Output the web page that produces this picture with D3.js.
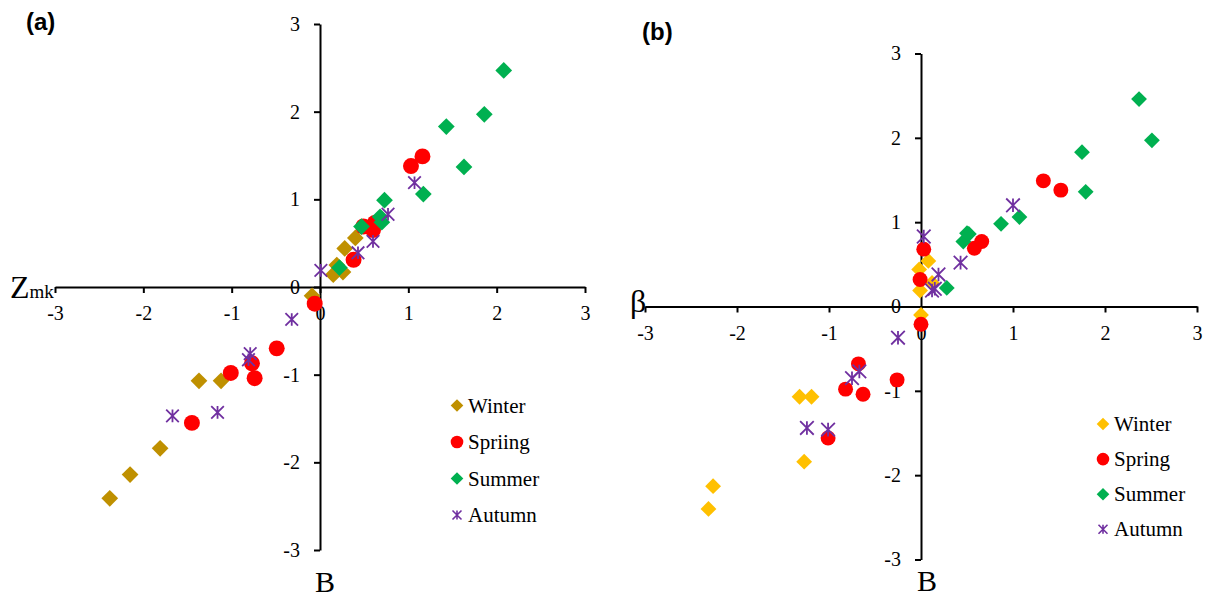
<!DOCTYPE html>
<html>
<head>
<meta charset="utf-8">
<script src="https://cdn.jsdelivr.net/npm/d3@7"></script>
<style>
  html, body { margin: 0; padding: 0; background: #fff; }
  svg { display: block; }
</style>
</head>
<body>
<svg id="chart" width="1209" height="599"></svg>
<script>
// ---- Data ----
const seasonsA = ["Winter", "Spriing", "Summer", "Autumn"];
const seasonsB = ["Winter", "Spring", "Summer", "Autumn"];
const tickValues = [-3, -2, -1, 0, 1, 2, 3];

// Panel (a): B vs Zmk
const winterA_x = [-2.38, -2.15, -1.81, -1.37, -1.12, -0.09, 0.15, 0.26, 0.19, 0.28, 0.40];
const winterA_y = [-2.41, -2.14, -1.84, -1.07, -1.07, -0.10, 0.14, 0.17, 0.25, 0.44, 0.56];
const springA_x = [-1.45, -1.01, -0.74, -0.49, -0.77, -0.06, 0.38, 0.49, 0.60, 0.62, 1.03, 1.16];
const springA_y = [-1.55, -0.98, -1.04, -0.70, -0.87, -0.19, 0.31, 0.69, 0.65, 0.73, 1.38, 1.49];
const summerA_x = [0.22, 0.47, 0.68, 0.70, 0.73, 1.17, 1.43, 1.63, 1.86, 2.08];
const summerA_y = [0.22, 0.69, 0.80, 0.74, 0.99, 1.06, 1.83, 1.37, 1.97, 2.47];
const autumnA_x = [-1.67, -1.16, -0.81, -0.79, -0.32, 0.01, 0.43, 0.60, 0.77, 1.07];
const autumnA_y = [-1.47, -1.43, -0.83, -0.76, -0.37, 0.19, 0.39, 0.52, 0.83, 1.19];

// Panel (b): B vs beta
const winterB_x = [-2.31, -2.26, -1.27, -1.32, -1.19, 0.00, -0.01, 0.12, -0.02, 0.08];
const winterB_y = [-2.40, -2.13, -1.84, -1.07, -1.07, -0.10, 0.19, 0.28, 0.44, 0.54];
const springB_x = [-1.01, -0.82, -0.63, -0.68, -0.26, 0.00, -0.01, 0.03, 0.58, 0.66, 1.33, 1.52];
const springB_y = [-1.56, -0.98, -1.04, -0.68, -0.87, -0.21, 0.32, 0.68, 0.69, 0.77, 1.49, 1.38];
const summerB_x = [0.28, 0.46, 0.50, 0.52, 0.87, 1.07, 1.75, 1.79, 2.37, 2.51];
const summerB_y = [0.22, 0.77, 0.87, 0.86, 0.98, 1.06, 1.83, 1.36, 2.46, 1.97];
const autumnB_x = [-1.24, -1.01, -0.75, -0.67, -0.25, 0.12, 0.15, 0.19, 0.43, 0.03, 1.00];
const autumnB_y = [-1.44, -1.46, -0.85, -0.77, -0.37, 0.19, 0.21, 0.38, 0.52, 0.83, 1.20];

// ---- Drawing ----
const svg = d3.select("#chart");
const SERIF = "'Liberation Serif', 'Times New Roman', serif";
const SANS = "'Liberation Sans', Arial, sans-serif";

function zip(xs, ys) { return xs.map((x, i) => ({x: x, y: ys[i]})); }

function asteriskPath(r) {
  const p = d3.path();
  p.moveTo(0, -r); p.lineTo(0, r);
  p.moveTo(-r, -r); p.lineTo(r, r);
  p.moveTo(-r, r); p.lineTo(r, -r);
  return p.toString();
}

function drawMarker(g, type, color, size) {
  if (type === "diamond") {
    g.append("path")
      .attr("d", d3.symbol().type(d3.symbolSquare).size(size.diamond)())
      .attr("transform", "rotate(45)")
      .attr("fill", color);
  } else if (type === "circle") {
    g.append("path")
      .attr("d", d3.symbol().type(d3.symbolCircle).size(size.circle)())
      .attr("fill", color);
  } else {
    g.append("path")
      .attr("d", asteriskPath(size.star))
      .attr("stroke", color).attr("stroke-width", size.starW || 1.8).attr("fill", "none");
  }
}

function panel(cfg) {
  const x = d3.scaleLinear().domain([-3, 3]).range(cfg.xRange);
  const y = d3.scaleLinear().domain([-3, 3]).range(cfg.yRange);
  const root = svg.append("g");

  // x axis through y=0
  const gx = root.append("g")
    .attr("transform", `translate(0,${y(0)})`)
    .call(d3.axisBottom(x).tickValues(tickValues).tickFormat(d3.format("d"))
      .tickSize(6).tickSizeOuter(0).tickPadding(13));
  // y axis through x=0
  const gy = root.append("g")
    .attr("transform", `translate(${x(0)},0)`)
    .call(d3.axisLeft(y).tickValues(tickValues).tickFormat(d3.format("d"))
      .tickSize(6).tickSizeOuter(0).tickPadding(14));
  [gx, gy].forEach(g => {
    g.attr("font-family", SERIF).attr("font-size", 20);
    g.selectAll("path.domain").attr("stroke", "#000").attr("stroke-width", 2);
    g.selectAll(".tick line").attr("stroke", "#000").attr("stroke-width", 2);
    g.selectAll(".tick text").attr("fill", "#000")
      .attr("font-family", SERIF)
      .style("font-family", SERIF).style("font-size", "20px");
  });
  gx.selectAll(".tick text").text(d => d < 0 ? "-" + Math.abs(d) : d);
  gy.selectAll(".tick text").text(d => d < 0 ? "-" + Math.abs(d) : d);

  // series
  cfg.series.forEach(s => {
    const pts = zip(s.xs, s.ys);
    pts.forEach(p => {
      const g = root.append("g").attr("transform", `translate(${x(p.x)},${y(p.y)})`);
      drawMarker(g, s.type, s.color, cfg.markerSize);
    });
  });

  // legend
  cfg.series.forEach((s, i) => {
    const cy = cfg.legend.y0 + i * cfg.legend.dy;
    const g = root.append("g").attr("transform", `translate(${cfg.legend.x},${cy})`);
    drawMarker(g, s.type, s.color, {diamond: 80, circle: 125, star: 4.5, starW: 1.6});
    root.append("text")
      .attr("x", cfg.legend.x + 11).attr("y", cy + 7)
      .style("font-family", SERIF).style("font-size", "21px")
      .attr("fill", "#000").text(s.name);
  });

  // panel letter
  root.append("text").attr("x", cfg.letter.x).attr("y", cfg.letter.y)
    .style("font-family", SANS).style("font-weight", "bold").style("font-size", "24px")
    .text(cfg.letter.text);

  // x-axis name "B"
  root.append("text").attr("x", cfg.bLabel.x).attr("y", cfg.bLabel.y)
    .style("font-family", SERIF).style("font-size", "30px").text("B");

  return root;
}

const pa = panel({
  xRange: [55, 585], yRange: [550, 24],
  markerSize: {diamond: 140, circle: 200, star: 6.3},
  series: [
    {name: seasonsA[0], xs: winterA_x, ys: winterA_y, type: "diamond", color: "#BF9000"},
    {name: seasonsA[1], xs: springA_x, ys: springA_y, type: "circle", color: "#FF0000"},
    {name: seasonsA[2], xs: summerA_x, ys: summerA_y, type: "diamond", color: "#00B050"},
    {name: seasonsA[3], xs: autumnA_x, ys: autumnA_y, type: "star", color: "#7030A0"}
  ],
  legend: {x: 457, y0: 405.5, dy: 36.5},
  letter: {x: 26, y: 30, text: "(a)"},
  bLabel: {x: 315, y: 592}
});
// y-axis name Zmk
const zt = pa.append("text").attr("x", 10).attr("y", 298)
  .style("font-family", SERIF).attr("fill", "#000");
zt.append("tspan").style("font-size", "32px").text("Z");
zt.append("tspan").style("font-size", "19px").text("mk");

const pb = panel({
  xRange: [645, 1197], yRange: [559.5, 53.5],
  markerSize: {diamond: 125, circle: 175, star: 6.8},
  series: [
    {name: seasonsB[0], xs: winterB_x, ys: winterB_y, type: "diamond", color: "#FFC000"},
    {name: seasonsB[1], xs: springB_x, ys: springB_y, type: "circle", color: "#FF0000"},
    {name: seasonsB[2], xs: summerB_x, ys: summerB_y, type: "diamond", color: "#00B050"},
    {name: seasonsB[3], xs: autumnB_x, ys: autumnB_y, type: "star", color: "#7030A0"}
  ],
  legend: {x: 1103, y0: 424, dy: 35.1},
  letter: {x: 642, y: 40, text: "(b)"},
  bLabel: {x: 917, y: 591}
});
pb.append("text").attr("x", 630).attr("y", 312)
  .style("font-family", SERIF).style("font-size", "32px").attr("fill", "#000").text("β");
</script>
</body>
</html>
